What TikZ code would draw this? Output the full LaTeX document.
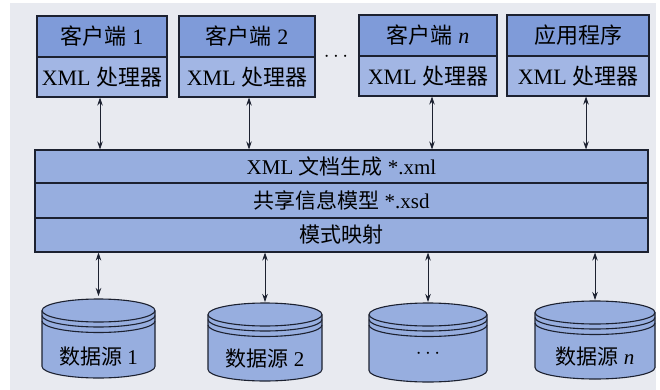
\documentclass[tikz,border=0pt]{standalone}
\usepackage{fontspec}
\setmainfont{Liberation Serif}
\newfontfamily\cjk{Noto Sans CJK SC}
\usetikzlibrary{arrows.meta}
\definecolor{bgc}{HTML}{E8EAF0}
\definecolor{topc}{HTML}{7F9BD9}
\definecolor{lowc}{HTML}{A2B6E4}
\definecolor{midc}{HTML}{97AEDF}
\definecolor{lnc}{HTML}{1C2130}
\begin{document}
\begin{tikzpicture}[x=1pt,y=-1pt,
  cell/.style={draw=lnc, line width=1.1pt, inner sep=0pt, font=\fontsize{22}{22}\selectfont},
  toprow/.style={cell, fill=topc},
  lowrow/.style={cell, fill=lowc},
  bigrow/.style={cell, fill=midc, minimum width=613pt, font=\fontsize{21}{21}\selectfont},
  arr/.style={{Stealth[length=8pt,width=5.5pt]}-{Stealth[length=8pt,width=5.5pt]}, line width=0.8pt, draw=lnc},
  lbl/.style={font=\fontsize{21}{21}\selectfont, inner sep=0pt}
]
\useasboundingbox (0,0) rectangle (660,390);
\fill[white] (0,0) rectangle (660,390);
\fill[bgc] (10,3) rectangle (656,390);

% client boxes
\node[toprow, minimum width=130pt, minimum height=41pt] (c1t) at (102,36.5) {{\cjk 客户端} 1};
\node[lowrow, minimum width=130pt, minimum height=40pt] (c1b) at (102,77) {XML {\cjk 处理器}};
\node[toprow, minimum width=136pt, minimum height=41pt] (c2t) at (247,36.5) {{\cjk 客户端} 2};
\node[lowrow, minimum width=136pt, minimum height=40pt] (c2b) at (247,77) {XML {\cjk 处理器}};
\node[lbl] (dots) at (336,57) {$\cdots$};
\node[toprow, minimum width=138pt, minimum height=41pt] (cnt) at (428,35.5) {{\cjk 客户端} \textit{n}};
\node[lowrow, minimum width=138pt, minimum height=40pt] (cnb) at (428,76) {XML {\cjk 处理器}};
\node[toprow, minimum width=142pt, minimum height=41pt] (apt) at (578,35.5) {{\cjk 应用程序}};
\node[lowrow, minimum width=142pt, minimum height=40pt] (apb) at (578,76) {XML {\cjk 处理器}};

% big box
\node[bigrow, minimum height=33pt] (xml) at (341.5,166.5) {XML {\cjk 文档生成} *.xml};
\node[bigrow, minimum height=35pt] (xsd) at (341.5,200.5) {{\cjk 共享信息模型} *.xsd};
\node[bigrow, minimum height=34pt] (map) at (341.5,235) {{\cjk 模式映射}};

% top arrows
\draw[arr] ([xshift=-2pt]c1b.south) -- ([xshift=-2pt]c1b.south |- xml.north);
\draw[arr] ([xshift=2pt]c2b.south) -- ([xshift=2pt]c2b.south |- xml.north);
\draw[arr] ([xshift=4pt]cnb.south) -- ([xshift=4pt]cnb.south |- xml.north);
\draw[arr] ([xshift=8pt]apb.south) -- ([xshift=8pt]apb.south |- xml.north);

% cylinders
\foreach \cx/\ty/\rx/\by/\nm/\tx/\txy in {
  98.5/299/56.5/378/d1/{{\cjk 数据源} 1}/357,
  265/303/57/381/d2/{{\cjk 数据源} 2}/359,
  428/303/59/382/d3/{$\cdots$}/354,
  595/301/60/379/dn/{{\cjk 数据源} \textit{n}}/357}{
  \filldraw[fill=midc, draw=lnc, line width=1.1pt]
    (\cx-\rx,\ty+11.5) -- (\cx-\rx,\by-11.5)
    arc[start angle=180,end angle=360,x radius=\rx pt,y radius=11.5pt]
    -- (\cx+\rx,\ty+11.5)
    arc[start angle=0,end angle=180,x radius=\rx pt,y radius=11.5pt] -- cycle;
  \draw[lnc, line width=1.1pt] (\cx-\rx,\ty+11.5)
    arc[start angle=180,end angle=360,x radius=\rx pt,y radius=11.5pt];
  \draw[lnc, line width=1.1pt] (\cx-\rx,\ty+16.5)
    arc[start angle=180,end angle=360,x radius=\rx pt,y radius=11.5pt];
  \draw[lnc, line width=1.1pt] (\cx-\rx,\ty+22)
    arc[start angle=180,end angle=360,x radius=\rx pt,y radius=11.5pt];
  \coordinate (\nm-top) at (\cx,\ty);
  \node[lbl] (\nm-label) at (\cx,\txy) {\tx};
}

% bottom arrows
\draw[arr, shorten >=3pt] (d1-top |- map.south) -- (d1-top);
\draw[arr, shorten >=1pt] (d2-top |- map.south) -- (d2-top);
\draw[arr, shorten >=1pt] (d3-top |- map.south) -- (d3-top);
\draw[arr, shorten >=1pt] (dn-top |- map.south) -- (dn-top);
\end{tikzpicture}
\end{document}
